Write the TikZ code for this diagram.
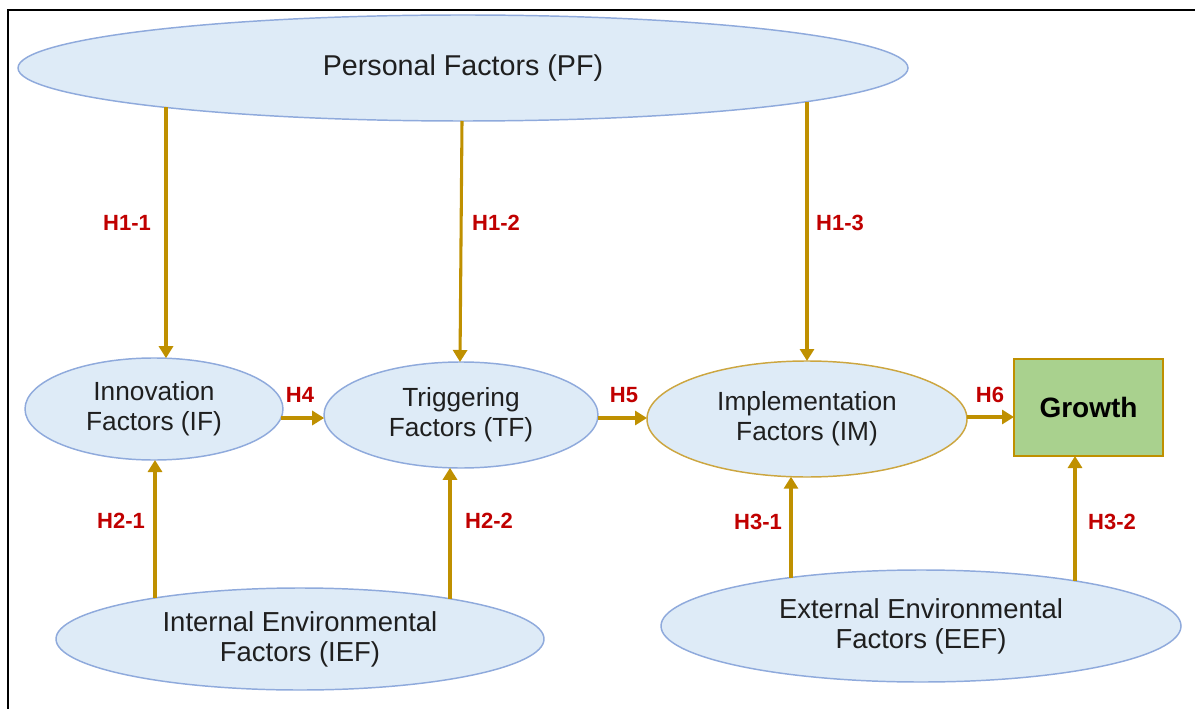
\documentclass[tikz,border=0pt]{standalone}
\usepackage{fontspec}
\setmainfont{Liberation Sans}
\usetikzlibrary{shapes.geometric,arrows.meta,calc}
\definecolor{ellfill}{HTML}{DEEBF7}
\definecolor{elldraw}{HTML}{8FAADC}
\definecolor{gold}{HTML}{BF9000}
\definecolor{goldline}{HTML}{CCA640}
\definecolor{hred}{HTML}{C00000}
\definecolor{growfill}{HTML}{A9D18E}
\definecolor{txt}{HTML}{1F1F1F}
\begin{document}
\begin{tikzpicture}[x=0.75pt,y=-0.75pt,
  factor/.style={ellipse,draw=elldraw,fill=ellfill,line width=1.1pt,inner sep=0pt,outer sep=0pt,
    align=center,text=txt,font=\fontsize{19.7}{22.5}\selectfont},
  arr/.style={draw=gold,line width=2.3pt,-{Triangle[length=9pt,width=10.5pt]}},
  hlab/.style={text=hred,font=\bfseries\fontsize{16.5}{18}\selectfont,inner sep=0pt}]
\useasboundingbox (0,0) rectangle (1195,709);
\draw[line width=2.2pt] (8,709) -- (8,10) -- (1195,10);

\node[factor,minimum width=667.5pt,minimum height=79.5pt,font=\fontsize{21.5}{24}\selectfont] (PF) at (463,68) {Personal Factors (PF)};
\node[factor,minimum width=193.5pt,minimum height=76.5pt] (IF) at (154,409) {Innovation\\Factors (IF)};
\node[factor,minimum width=205.5pt,minimum height=79.5pt] (TF) at (461,415) {Triggering\\Factors (TF)};
\node[factor,draw=goldline,minimum width=240pt,minimum height=87pt] (IM) at (807,419) {Implementation\\Factors (IM)};
\node[draw=gold,fill=growfill,line width=1.1pt,minimum width=111.75pt,minimum height=72.75pt,inner sep=0pt,outer sep=0pt,
  font=\bfseries\fontsize{21}{24}\selectfont,text=black] (G) at (1088.5,407.5) {Growth};
\node[factor,minimum width=366pt,minimum height=76.5pt,font=\fontsize{20.6}{22.5}\selectfont] (IEF) at (300,639) {Internal Environmental\\Factors (IEF)};
\node[factor,minimum width=390pt,minimum height=84pt,font=\fontsize{20.6}{22.5}\selectfont] (EEF) at (921,626) {External Environmental\\Factors (EEF)};

\coordinate (s6) at ($(IM.center)+(159.9,-2)$);
\coordinate (s32) at ($(EEF.center)+(154,-45.1)$);

\draw[arr] ($(PF.center)+(-297,39.5)$) -- ($(IF.center)+(12,-50.8)$);
\draw[arr] ($(PF.center)+(-1,53)$) -- ($(TF.center)+(-1,-53)$);
\draw[arr] ($(PF.center)+(344,33.6)$) -- (IM.north);
\draw[arr] ($(IF.center)+(127,9)$) -- ($(TF.center)+(-136.8,3)$);
\draw[arr] ($(TF.center)+(136.8,3)$) -- ($(IM.center)+(-160,-1)$);
\draw[arr] (s6) -- (s6 -| G.west);
\draw[arr] ($(IEF.center)+(-145,-41)$) -- ($(IF.center)+(1,51)$);
\draw[arr] ($(IEF.center)+(150,-40.2)$) -- ($(TF.center)+(-11,52.8)$);
\draw[arr] ($(EEF.center)+(-130,-48.5)$) -- ($(IM.center)+(-16,57.7)$);
\draw[arr] (s32) -- (s32 |- G.south);

\node[hlab] (h11) at (127,223) {H1-1};
\node[hlab] (h12) at (496,223) {H1-2};
\node[hlab] (h13) at (840,223) {H1-3};
\node[hlab] (h4) at (300,395) {H4};
\node[hlab] (h5) at (624,395) {H5};
\node[hlab] (h6) at (990,395) {H6};
\node[hlab] (h21) at (121,521) {H2-1};
\node[hlab] (h22) at (489,521) {H2-2};
\node[hlab] (h31) at (758,522) {H3-1};
\node[hlab] (h32) at (1112,522) {H3-2};
\end{tikzpicture}
\end{document}
